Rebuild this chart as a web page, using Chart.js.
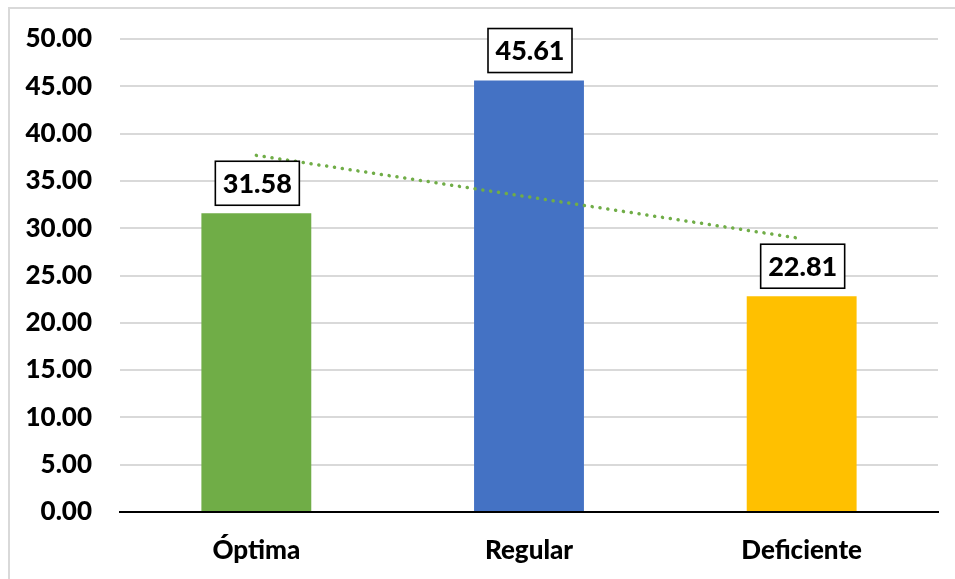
<!DOCTYPE html>
<html>
<head>
<meta charset="utf-8">
<script src="https://cdn.jsdelivr.net/npm/chart.js@4/dist/chart.umd.min.js"></script>
<style>
  html, body { margin: 0; padding: 0; background: #fff; }
  #wrap { position: relative; width: 955px; height: 579px; }
  #frame { position: absolute; left: 8px; top: 7px; right: -2px; bottom: -2px;
           border-top: 2px solid #d9d9d9; border-left: 2px solid #d9d9d9; }
  canvas { position: absolute; left: 0; top: 0; }
</style>
</head>
<body>
<div id="wrap">
  <div id="frame"></div>
  <canvas id="c" width="955" height="579"></canvas>
</div>
<script>
// Categories, bar values and the linear trendline.
const categories = ["Óptima", "Regular", "Deficiente"];
const values = [31.58, 45.61, 22.81];
const trend = [37.7, 33.3, 28.9];
const barColors = ["#70AD47", "#4472C4", "#FFC000"];
const yTicks = [0, 5, 10, 15, 20, 25, 30, 35, 40, 45, 50];

const FONT = "Lato, 'Open Sans', sans-serif";

// Boxed value labels above each bar, drawn on top of everything.
const boxedLabels = {
  id: "boxedLabels",
  afterDraw(c) {
    const meta = c.getDatasetMeta(0);
    const ctx = c.ctx;
    ctx.save();
    ctx.font = `900 27px ${FONT}`;
    ctx.textAlign = "center";
    ctx.textBaseline = "middle";
    meta.data.forEach((bar, i) => {
      const txt = values[i].toFixed(2);
      const w = 84, h = 44;
      const bottom = bar.y - 8;
      const left = bar.x - w / 2 + 1;
      ctx.fillStyle = "#fff";
      ctx.fillRect(left, bottom - h, w, h);
      ctx.lineWidth = 1.6;
      ctx.strokeStyle = "#000";
      ctx.strokeRect(left, bottom - h, w, h);
      ctx.fillStyle = "#000";
      ctx.fillText(txt, left + w / 2, bottom - h / 2 + 1);
    });
    ctx.restore();
  },
};

new Chart(document.getElementById("c"), {
  data: {
    labels: categories,
    datasets: [
      { type: "bar", data: values, backgroundColor: barColors,
        categoryPercentage: 1, barPercentage: 0.403, order: 1 },
      { type: "line", data: trend, borderColor: "#70AD47", borderWidth: 3.5,
        borderDash: [0.1, 7.8], borderCapStyle: "round", pointRadius: 0,
        fill: false, tension: 0, order: 0 },
    ],
  },
  options: {
    responsive: false, animation: false,
    layout: { padding: { left: 0, right: 17, top: 39, bottom: 0 } },
    plugins: { legend: { display: false }, tooltip: { enabled: false } },
    scales: {
      x: {
        offset: true,
        grid: { display: false, drawTicks: false, tickLength: 0 },
        border: { color: "#000", width: 2 },
        ticks: { color: "#000", font: { family: FONT, size: 26, weight: "900" }, padding: 23 },
        afterFit: (a) => { a.height = 67; a.paddingLeft = 0; a.paddingRight = 0; },
      },
      y: {
        min: 0, max: 50,
        afterBuildTicks: (a) => { a.ticks = yTicks.map(v => ({ value: v })); },
        grid: { color: "#d9d9d9", lineWidth: 2, drawTicks: false, tickLength: 0 },
        border: { display: false },
        ticks: { color: "#000", font: { family: FONT, size: 26, weight: "900" }, padding: 28,
                 callback: (v) => Number(v).toFixed(2) },
        afterFit: (a) => { a.width = 120; a.paddingTop = 0; a.paddingBottom = 0; },
      },
    },
  },
  plugins: [boxedLabels],
});
</script>
</body>
</html>
